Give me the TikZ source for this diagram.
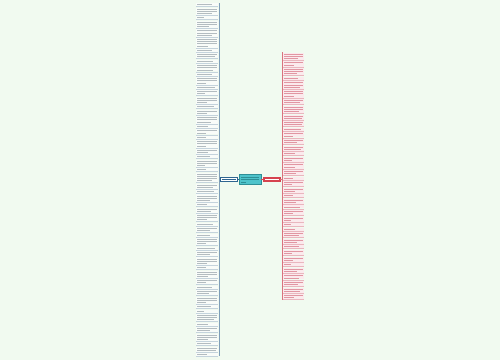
\documentclass[tikz,border=0pt]{standalone}
\usetikzlibrary{calc}
\definecolor{bg}{HTML}{F1FAF0}
\definecolor{leafLbg}{HTML}{F9FCF9}
\definecolor{leafLline}{HTML}{C4D3DC}
\definecolor{txtLc}{HTML}{B3BCC0}
\definecolor{blueC}{HTML}{2F6590}
\definecolor{blueV}{HTML}{7E9DB8}
\definecolor{leafRbg}{HTML}{FBEAED}
\definecolor{leafRline}{HTML}{E9B6BE}
\definecolor{txtRc}{HTML}{E196A2}
\definecolor{redC}{HTML}{D6434F}
\definecolor{redV}{HTML}{D9737D}
\definecolor{tealC}{HTML}{4EC3CB}
\definecolor{tealD}{HTML}{2E8F97}
\tikzset{
  leafL/.style={fill=leafLbg, draw=none, inner sep=0pt, minimum width=21.5pt},
  leafR/.style={fill=leafRbg, draw=none, inner sep=0pt, minimum width=20.5pt},
  txtL/.style={fill=txtLc},
  txtR/.style={fill=txtRc},
  ulineL/.style={draw=leafLline, line width=0.3pt},
  ulineR/.style={draw=leafRline, line width=0.3pt},
  blueline/.style={draw=blueC, line width=0.7pt},
  bluevline/.style={draw=blueV, line width=0.6pt},
  redline/.style={draw=redC, line width=0.7pt},
  redvline/.style={draw=redV, line width=0.6pt},
  centerbox/.style={fill=tealC, draw=tealD, line width=0.3pt, inner sep=0pt, minimum width=22pt, minimum height=9.5pt},
  leftbox/.style={fill=white, draw=blueC, line width=0.6pt, inner sep=0pt, minimum width=17pt, minimum height=4.5pt},
  rightbox/.style={fill=redC, draw=redC, inner sep=0pt, minimum width=17pt, minimum height=4pt}
}
\begin{document}
\begin{tikzpicture}[x=1pt,y=-1pt]
\fill[bg] (0,0) rectangle (500,360);
\useasboundingbox (0,0) rectangle (500,360);
\pgfmathsetseed{11}

% ---------- left column ----------
\gdef\ycur{3.2}
\foreach \n [count=\i] in {1,3,1,3,3,4,1,2,1,3,1,3,1,2,3,1,2,3,1,2,1,3,2,1,3,1,4,2,1,3,1,2,3,1,2,1,3,1,2,3,1,3,2,1,2,3,1,1,3,1,2,3,1,2,1}{
  \pgfmathsetmacro\h{\n*2.2+0.8}
  \pgfmathsetmacro\yc{\ycur+\h/2}
  \node[leafL, minimum height=\h pt] (L\i) at (207,\yc) {};
  \draw[ulineL] (L\i.south west) -- (L\i.south east);
  \foreach \k in {1,...,\n}{
    \pgfmathsetmacro\ly{\ycur+0.4+(\k-0.5)*2.2}
    \pgfmathsetmacro\xe{(\k==\n) ? (197+20*(0.35+0.6*rnd)) : 216.8}
    \fill[txtL] (197,\ly-0.45) rectangle (\xe,\ly+0.45);
  }
  \pgfmathsetmacro\tmp{\ycur+\h+1.32}\xdef\ycur{\tmp}
}
\coordinate (lvtop) at ($(L1.north east)+(1,0)$);
\coordinate (lvbot) at ($(L55.south east)+(1,0)$);
\draw[bluevline] (lvtop) -- (lvbot);

% ---------- right column ----------
\gdef\ycur{52.5}
\foreach \n [count=\i] in {3,2,3,1,3,3,2,3,2,2,1,2,2,2,1,2,2,2,1,2,2,1,2,1,2,2,1,1,2,2,1,2,2,1,2,2,2,2,2}{
  \pgfmathsetmacro\h{\n*2.2+0.8}
  \pgfmathsetmacro\yc{\ycur+\h/2}
  \node[leafR, minimum height=\h pt] (R\i) at (293.25,\yc) {};
  \draw[ulineR] (R\i.south west) -- (R\i.south east);
  \foreach \k in {1,...,\n}{
    \pgfmathsetmacro\ly{\ycur+0.4+(\k-0.5)*2.2}
    \pgfmathsetmacro\xe{(\k==\n) ? (284+19*(0.35+0.6*rnd)) : 302.5}
    \fill[txtR] (284,\ly-0.45) rectangle (\xe,\ly+0.45);
  }
  \pgfmathsetmacro\tmp{\ycur+\h+1.45}\xdef\ycur{\tmp}
}
\coordinate (rvtop) at ($(R1.north west)+(-1,0)$);
\coordinate (rvbot) at ($(R39.south west)+(-1,0)$);
\draw[redvline] (rvtop) -- (rvbot);

% ---------- main nodes ----------
\node[centerbox] (center) at (250,179.3) {};
\fill[tealD] (241,176.8) rectangle (259,177.8);
\fill[tealD] (241,179.3) rectangle (259,180.3);
\fill[tealD] (241,181.8) rectangle (246,182.8);

\node[leftbox] (left) at (228.5,179.3) {};
\fill[blueC] (221.5,178.85) rectangle (235.5,179.75);

\node[rightbox] (right) at (271.5,179.3) {};
\fill[white] (264.5,178.85) rectangle (278.5,179.75);

\draw[blueline] (center.west) -- (left.east);
\draw[bluevline] (left.west) -- (left.west -| lvtop);
\draw[redline] (center.east) -- (right.west);
\draw[redvline] (right.east) -- (right.east -| rvtop);
\end{tikzpicture}
\end{document}
